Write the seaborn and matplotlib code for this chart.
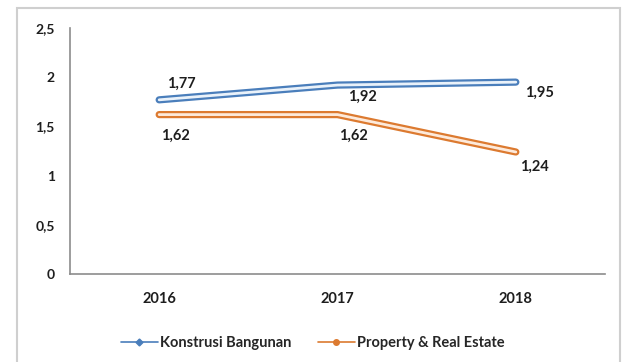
import matplotlib
matplotlib.use("Agg")
import matplotlib.pyplot as plt
from matplotlib.lines import Line2D
from matplotlib.patches import Rectangle
import seaborn as sns
import pandas as pd

years = ["2016", "2017", "2018"]
series_names = ["Konstrusi Bangunan", "Property & Real Estate"]
konstrusi = [1.77, 1.92, 1.95]
property_re = [1.62, 1.62, 1.24]
y_ticks = [0, 0.5, 1, 1.5, 2, 2.5]
y_tick_labels = ["0", "0,5", "1", "1,5", "2", "2,5"]

df = pd.DataFrame({
    "year": years * 2,
    "x": list(range(len(years))) * 2,
    "value": konstrusi + property_re,
    "series": [series_names[0]] * 3 + [series_names[1]] * 3,
})

sns.set_theme(style="white")
plt.rcParams["font.family"] = ["Lato", "DejaVu Sans"]

outline = {series_names[0]: "#4a7ebb", series_names[1]: "#dc7a30"}
inner = {series_names[0]: "#eaf2fa", series_names[1]: "#fdeadb"}

fig = plt.figure(figsize=(6.25, 3.62), dpi=100)
fig.patch.set_facecolor("white")
ax = fig.add_axes([70 / 625, 1 - 274 / 362, 535 / 625, 246 / 362])

sns.lineplot(data=df, x="x", y="value", hue="series", palette=outline,
             lw=5.2, ax=ax, legend=False, solid_capstyle="round")
sns.lineplot(data=df, x="x", y="value", hue="series", palette=inner,
             lw=2.0, ax=ax, legend=False, solid_capstyle="round")

ax.set_xlim(-0.5, 2.5)
ax.set_ylim(0, 2.5)
ax.set_xticks(range(len(years)))
ax.set_xticklabels(years)
ax.set_yticks(y_ticks)
ax.set_yticklabels(y_tick_labels)
ax.set_xlabel("")
ax.set_ylabel("")
for s in ["top", "right"]:
    ax.spines[s].set_visible(False)
for s in ["left", "bottom"]:
    ax.spines[s].set_color("#8c8c8c")
    ax.spines[s].set_linewidth(1.2)
ax.tick_params(axis="y", length=0, pad=11, labelsize=10, labelcolor="#1e1e1e")
ax.tick_params(axis="x", length=0, pad=13, labelsize=10.5, labelcolor="#1e1e1e")
for lab in ax.get_xticklabels() + ax.get_yticklabels():
    lab.set_fontweight("bold")

# data labels
k_offsets = [(22, 16), (25, -12), (24, -11)]
p_offsets = [(16, -21), (16, -21), (19, -15)]
for i, v in enumerate(konstrusi):
    ax.annotate(f"{v:.2f}".replace(".", ","), (i, v), xytext=k_offsets[i],
                textcoords="offset pixels", ha="center", va="center",
                fontsize=10.5, fontweight="bold", color="#1e1e1e")
for i, v in enumerate(property_re):
    ax.annotate(f"{v:.2f}".replace(".", ","), (i, v), xytext=p_offsets[i],
                textcoords="offset pixels", ha="center", va="center",
                fontsize=10.5, fontweight="bold", color="#1e1e1e")

handles = [
    Line2D([0], [0], color="#4a7ebb", lw=1.2, marker="D", markersize=3.5,
           markerfacecolor="#4a7ebb"),
    Line2D([0], [0], color="#dc7a30", lw=1.2, marker="o", markersize=4,
           markerfacecolor="#dc7a30"),
]
fig.legend(handles, series_names, loc="center", bbox_to_anchor=(0.5, 1 - 343 / 362),
           ncol=2, frameon=False, handlelength=2.6,
           handletextpad=0.1, columnspacing=1.8,
           prop={"weight": "bold", "size": 10.5})

fig.add_artist(Rectangle((17 / 625, -0.05), 603 / 625, 1.05 - 8 / 362,
                         transform=fig.transFigure, fill=False,
                         edgecolor="#cfcfcf", lw=1.5))

fig.savefig("out.png", dpi=100, facecolor="white")
